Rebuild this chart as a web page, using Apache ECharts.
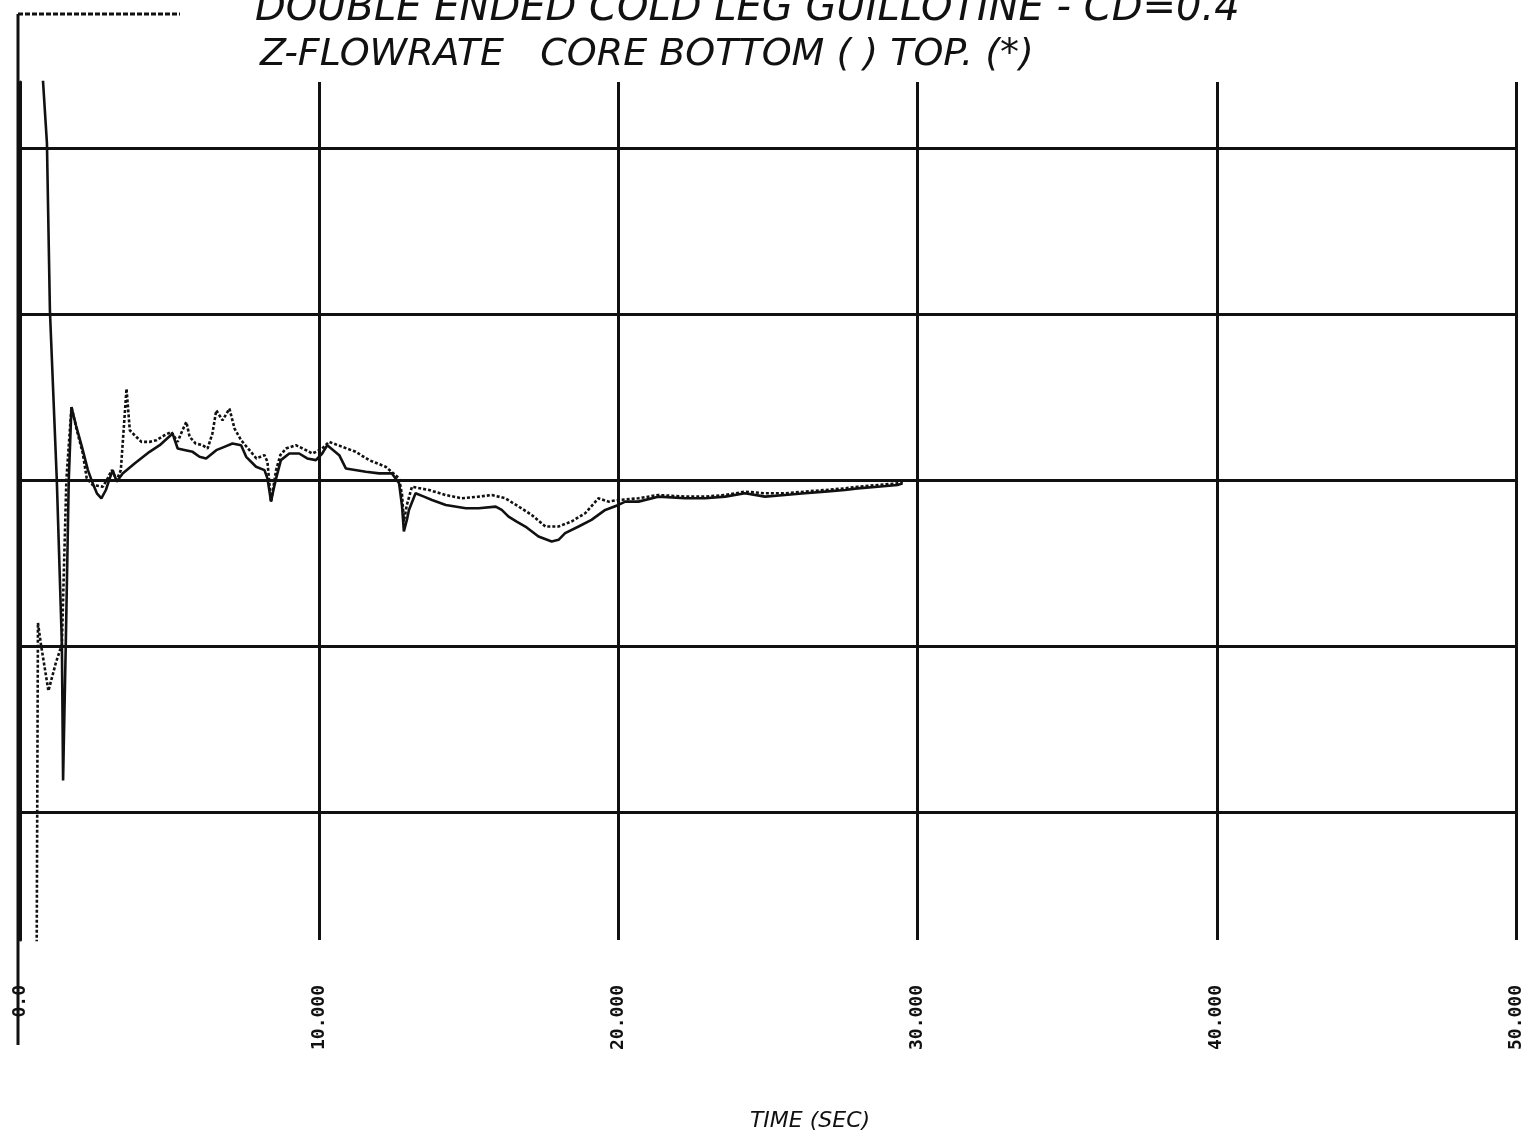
<!DOCTYPE html>
<html>
<head>
<meta charset="utf-8">
<script src="https://cdn.jsdelivr.net/npm/echarts@6/dist/echarts.min.js"></script>
<style>
html,body{margin:0;padding:0;background:#fff;}
#chart{width:1522px;height:1138px;}
</style>
</head>
<body>
<div id="chart"></div>
<script>
// X axis ticks (time, sec) and their printed labels
const xTicks = [0, 10, 20, 30, 40, 50];
const xTickLabels = ['0.0', '10.000', '20.000', '30.000', '40.000', '50.000'];
// horizontal grid levels (in grid divisions, 0 = zero flow line)
const gridLevels = [2, 1, 0, -1, -2];

// Core BOTTOM flowrate (solid)
const timeBottom = [0, 0.70, 0.77, 0.90, 1.00, 1.23, 1.40, 1.44, 1.53, 1.63, 1.72, 1.87, 2.07, 2.27, 2.43, 2.57, 2.72, 2.87, 3.00, 3.10, 3.23, 3.43, 3.83, 4.33, 4.67, 5.10, 5.27, 5.53, 5.77, 6.00, 6.22, 6.56, 6.83, 7.10, 7.39, 7.56, 7.89, 8.17, 8.27, 8.39, 8.47, 8.56, 8.72, 9.00, 9.33, 9.60, 9.89, 10.10, 10.27, 10.67, 10.89, 11.56, 12.00, 12.43, 12.67, 12.77, 12.83, 12.93, 13.00, 13.22, 13.50, 13.77, 14.23, 14.90, 15.33, 15.90, 16.10, 16.33, 16.60, 16.89, 17.33, 17.77, 18.00, 18.22, 18.67, 19.10, 19.56, 20.00, 20.23, 20.67, 21.33, 22.23, 22.90, 23.57, 24.23, 24.90, 25.57, 26.23, 26.90, 27.57, 28.00, 28.67, 29.33, 29.50];
const flowBottom = [2.9, 2.9, 2.40, 2.03, 1.02, 0.00, -0.99, -1.81, -0.99, 0.00, 0.44, 0.33, 0.20, 0.06, -0.02, -0.08, -0.11, -0.06, 0.01, 0.06, -0.01, 0.04, 0.10, 0.17, 0.21, 0.28, 0.19, 0.18, 0.17, 0.14, 0.13, 0.18, 0.20, 0.22, 0.21, 0.14, 0.08, 0.06, 0.01, -0.13, -0.06, 0.01, 0.12, 0.16, 0.16, 0.13, 0.12, 0.16, 0.21, 0.15, 0.07, 0.05, 0.04, 0.04, -0.02, -0.16, -0.31, -0.24, -0.18, -0.08, -0.10, -0.12, -0.15, -0.17, -0.17, -0.16, -0.18, -0.22, -0.25, -0.28, -0.34, -0.37, -0.36, -0.32, -0.28, -0.24, -0.18, -0.15, -0.13, -0.13, -0.10, -0.11, -0.11, -0.10, -0.08, -0.10, -0.09, -0.08, -0.07, -0.06, -0.05, -0.04, -0.03, -0.02];

// Core TOP flowrate (*)
const timeTop = [0, 0.55, 0.60, 0.70, 0.95, 1.20, 1.40, 1.55, 1.72, 1.90, 2.10, 2.23, 2.43, 2.77, 2.93, 3.07, 3.23, 3.37, 3.56, 3.67, 3.83, 4.06, 4.33, 4.56, 4.83, 5.06, 5.27, 5.43, 5.56, 5.67, 5.87, 6.10, 6.27, 6.43, 6.56, 6.77, 7.00, 7.17, 7.39, 7.67, 7.90, 8.17, 8.27, 8.39, 8.56, 8.70, 8.89, 9.22, 9.56, 9.77, 9.89, 10.10, 10.33, 10.77, 11.22, 11.67, 12.22, 12.67, 12.77, 12.83, 12.93, 13.10, 13.67, 14.22, 14.77, 15.33, 15.77, 16.22, 16.67, 17.10, 17.56, 18.00, 18.43, 18.89, 19.33, 19.67, 20.00, 20.67, 21.33, 22.23, 22.90, 23.57, 24.23, 24.90, 25.57, 26.23, 26.90, 27.57, 28.00, 28.67, 29.33, 29.50];
const flowTop = [-3.2, -3.2, -0.86, -0.99, -1.27, -1.10, -0.99, 0.00, 0.44, 0.30, 0.16, 0.01, -0.03, -0.04, 0.01, 0.06, 0.00, 0.06, 0.55, 0.30, 0.27, 0.23, 0.23, 0.24, 0.27, 0.29, 0.23, 0.30, 0.35, 0.26, 0.22, 0.21, 0.19, 0.28, 0.42, 0.36, 0.43, 0.31, 0.24, 0.18, 0.13, 0.15, 0.11, -0.13, 0.06, 0.15, 0.19, 0.21, 0.18, 0.16, 0.17, 0.19, 0.23, 0.20, 0.17, 0.12, 0.08, 0.01, -0.09, -0.25, -0.15, -0.04, -0.06, -0.09, -0.11, -0.10, -0.09, -0.11, -0.16, -0.21, -0.28, -0.28, -0.25, -0.20, -0.11, -0.13, -0.12, -0.11, -0.09, -0.10, -0.10, -0.09, -0.07, -0.08, -0.08, -0.07, -0.06, -0.05, -0.04, -0.03, -0.02, -0.01];

const titleLine1 = 'DOUBLE ENDED COLD LEG GUILLOTINE - CD=0.4';
const titleLine2 = 'Z-FLOWRATE   CORE BOTTOM ( ) TOP. (*)';
const xName = 'TIME (SEC)';

const pairs = (xs, ys) => xs.map((x, i) => [x, ys[i]]);
const ink = '#111';

const chart = echarts.init(document.getElementById('chart'), null, {renderer: 'canvas'});
chart.setOption({
  animation: false,
  backgroundColor: '#fff',
  title: [
    {text: titleLine1, left: 250, top: -15,
     textStyle: {fontFamily: 'DejaVu Sans', fontStyle: 'italic', fontWeight: 'normal', fontSize: 40, color: ink}},
    {text: titleLine2, left: 255, top: 31,
     textStyle: {fontFamily: 'DejaVu Sans', fontStyle: 'italic', fontWeight: 'normal', fontSize: 38, color: ink}}
  ],
  graphic: [
    {type: 'line', shape: {x1: 18, y1: 14, x2: 18, y2: 1045}, style: {stroke: ink, lineWidth: 3}},
    {type: 'line', shape: {x1: 18, y1: 14, x2: 180, y2: 14}, style: {stroke: ink, lineWidth: 3, lineDash: [5, 2]}}
  ],
  grid: {left: 20, right: 6, top: 82, bottom: 198, containLabel: false, outerBoundsMode: 'none'},
  xAxis: {
    type: 'value', min: 0, max: 50, interval: 10,
    name: xName, nameLocation: 'middle', nameGap: 170,
    nameTextStyle: {fontFamily: 'DejaVu Sans', fontStyle: 'italic', fontSize: 22, color: ink, padding: [0, 0, 0, 84]},
    axisLine: {show: true, lineStyle: {color: ink, width: 3}},
    axisTick: {show: true, length: 10, lineStyle: {color: ink, width: 3}},
    splitLine: {show: true, lineStyle: {color: ink, width: 3}},
    axisLabel: {
      rotate: 90, margin: 45, color: ink,
      fontFamily: 'DejaVu Sans Mono', fontWeight: 'bold', fontSize: 18,
      formatter: v => { const i = xTicks.indexOf(v); return i >= 0 ? xTickLabels[i] : ''; }
    }
  },
  yAxis: {
    type: 'value', min: -2.771, max: 2.398,
    axisLine: {show: true, lineStyle: {color: ink, width: 3}},
    axisTick: {show: false}, axisLabel: {show: false}, splitLine: {show: false}
  },
  series: [
    {
      name: 'Core Bottom', type: 'line', data: pairs(timeBottom, flowBottom),
      showSymbol: false, clip: true,
      lineStyle: {color: ink, width: 2.6, type: 'solid'},
      markLine: {
        silent: true, symbol: ['none', 'none'], label: {show: false},
        lineStyle: {color: ink, width: 3, type: 'solid'},
        data: gridLevels.map(v => ({yAxis: v}))
      },
      z: 3
    },
    {
      name: 'Core Top (*)', type: 'line', data: pairs(timeTop, flowTop),
      showSymbol: false, clip: true,
      lineStyle: {color: ink, width: 2.6, type: [3, 2]},
      z: 4
    }
  ]
});
</script>
</body>
</html>
